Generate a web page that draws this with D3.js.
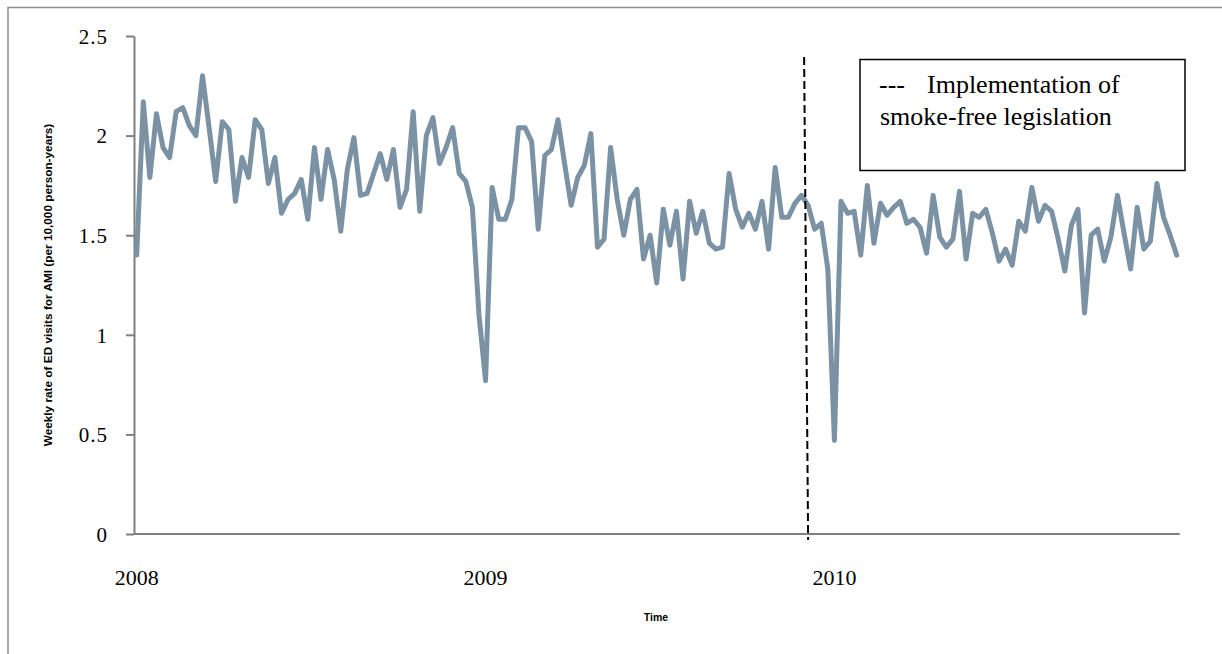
<!DOCTYPE html>
<html>
<head>
<meta charset="utf-8">
<script src="https://cdn.jsdelivr.net/npm/d3@7"></script>
<style>
  html, body { margin: 0; padding: 0; background: #fff; }
  svg { display: block; }
</style>
</head>
<body>
<svg id="chart" width="1222" height="654"></svg>
<script>
// ---- data ----
const weeklyRate = [
  1.40, 2.17, 1.79, 2.11, 1.94, 1.89, 2.12, 2.14, 2.05, 2.00, 2.30, 2.04, 1.77, 2.07, 2.03, 1.67, 1.89, 1.79, 2.08, 2.03, 1.76, 1.89, 1.61,
  1.68, 1.71, 1.78, 1.58, 1.94, 1.68, 1.93, 1.78, 1.52, 1.83, 1.99, 1.70, 1.71, 1.81, 1.91, 1.78, 1.93, 1.64, 1.73, 2.12, 1.62, 2.00, 2.09,
  1.86, 1.94, 2.04, 1.81, 1.77, 1.64, 1.10, 0.77, 1.74, 1.58, 1.58, 1.68, 2.04, 2.04, 1.97, 1.53, 1.90, 1.93, 2.08, 1.86, 1.65, 1.79, 1.85,
  2.01, 1.44, 1.48, 1.94, 1.68, 1.50, 1.68, 1.73, 1.38, 1.50, 1.26, 1.63, 1.45, 1.62, 1.28, 1.67, 1.51, 1.62, 1.46, 1.43, 1.44, 1.81,
  1.63, 1.54, 1.61, 1.53, 1.67, 1.43, 1.84, 1.59, 1.59, 1.66, 1.70, 1.65, 1.53, 1.56, 1.33, 0.47, 1.67, 1.61, 1.62,
  1.40, 1.75, 1.46, 1.66, 1.60, 1.64, 1.67, 1.56, 1.58, 1.54, 1.41, 1.70, 1.49, 1.44, 1.48, 1.72, 1.38, 1.61, 1.59, 1.63, 1.51, 1.37, 1.43, 1.35,
  1.57, 1.52, 1.74, 1.57, 1.65, 1.62, 1.48, 1.32, 1.55, 1.63, 1.11, 1.50, 1.53, 1.37, 1.49, 1.70, 1.51, 1.33, 1.64, 1.43, 1.47, 1.76, 1.59, 1.50, 1.40
];
const yearLabels = ["2008", "2009", "2010"];
const yearWeekIndex = [0, 53, 106];
const yTickValues = [0, 0.5, 1, 1.5, 2, 2.5];
const yTickLabels = ["0", "0.5", "1", "1.5", "2", "2.5"];
const legislationWeek = [101.7];
const legendLines = ["Implementation of", "smoke-free legislation"];
const yAxisTitle = "Weekly rate of ED visits for AMI (per 10,000 person-years)";
const xAxisTitle = "Time";

// ---- layout ----
const svg = d3.select("#chart");
const serif = "'Liberation Serif', 'DejaVu Serif', serif";
const sans = "'Liberation Sans', Arial, sans-serif";

const x = d3.scaleLinear().domain([0, weeklyRate.length - 1]).range([136.7, 1176.7]);
const y = d3.scaleLinear().domain([0, 2.5]).range([534, 36]);

// outer frame (left and top edges)
svg.append("path")
  .attr("d", "M8,654 L8,7.5 L1222,7.5")
  .attr("fill", "none").attr("stroke", "#8c8c8c").attr("stroke-width", 1.5);

// y axis
const yAxis = svg.append("g").attr("transform", "translate(134,0)")
  .call(d3.axisLeft(y).tickValues(yTickValues)
    .tickFormat((d, i) => yTickLabels[i]).tickSize(8).tickSizeOuter(0).tickPadding(18));
yAxis.select(".domain").attr("stroke", "#7f7f7f").attr("stroke-width", 2);
yAxis.selectAll(".tick line").attr("stroke", "#7f7f7f").attr("stroke-width", 2);
yAxis.selectAll(".tick text").attr("font-family", serif).attr("font-size", 21)
  .attr("fill", "#000").attr("letter-spacing", 1).attr("dy", "0.35em");

// x axis line
svg.append("line")
  .attr("x1", 134).attr("x2", x(weeklyRate.length - 1) + 3)
  .attr("y1", y(0)).attr("y2", y(0))
  .attr("stroke", "#7f7f7f").attr("stroke-width", 2);

// year labels
svg.append("g").selectAll("text").data(yearLabels).join("text")
  .attr("x", (d, i) => x(yearWeekIndex[i]))
  .attr("y", 585)
  .attr("text-anchor", "middle")
  .attr("font-family", serif).attr("font-size", 22).attr("fill", "#000")
  .text(d => d);

// data line
svg.append("path")
  .datum(weeklyRate)
  .attr("fill", "none")
  .attr("stroke", "#7b92a5")
  .attr("stroke-width", 5)
  .attr("stroke-linejoin", "round")
  .attr("stroke-linecap", "round")
  .attr("d", d3.line().x((d, i) => x(i)).y(d => y(d)));

// legislation dashed line
svg.append("g").selectAll("line").data(legislationWeek).join("line")
  .attr("x1", d => x(d) - 2).attr("x2", d => x(d) + 2)
  .attr("y1", 57).attr("y2", 540)
  .attr("stroke", "#000").attr("stroke-width", 2)
  .attr("stroke-dasharray", "8,4");

// legend box
svg.append("rect")
  .attr("x", 860).attr("y", 59.5).attr("width", 325).attr("height", 111)
  .attr("fill", "#fff").attr("stroke", "#000").attr("stroke-width", 1.5);
svg.append("text").attr("x", 879).attr("y", 93)
  .attr("font-family", serif).attr("font-size", 26).attr("fill", "#000").text("---");
svg.append("text").attr("x", 927).attr("y", 93)
  .attr("font-family", serif).attr("font-size", 26).attr("fill", "#000").text(legendLines[0]);
svg.append("text").attr("x", 880).attr("y", 125)
  .attr("font-family", serif).attr("font-size", 26).attr("fill", "#000").text(legendLines[1]);

// axis titles
const yt = svg.append("text")
  .attr("transform", "translate(52,285) rotate(-90)")
  .attr("text-anchor", "middle")
  .attr("font-family", sans).attr("font-weight", "bold").attr("font-size", 10)
  .attr("fill", "#000").text(yAxisTitle);
const w = yt.node().getComputedTextLength();
if (w > 0) yt.attr("font-size", 10 * 323 / w);

svg.append("text")
  .attr("x", 656).attr("y", 621)
  .attr("text-anchor", "middle")
  .attr("font-family", sans).attr("font-weight", "bold").attr("font-size", 10.5)
  .attr("fill", "#000").text(xAxisTitle);
</script>
</body>
</html>
